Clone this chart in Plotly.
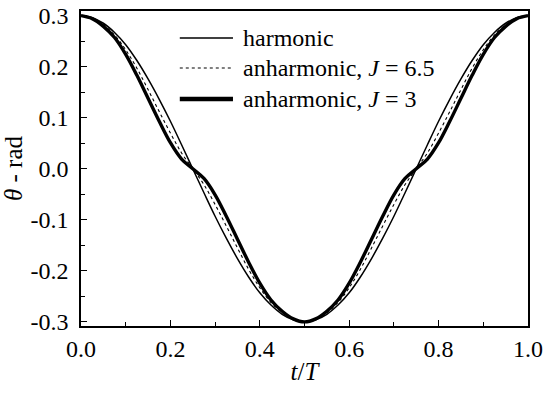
import plotly.graph_objects as go

# time axis t/T
t = [0.000, 0.025, 0.050, 0.075, 0.100, 0.125, 0.150, 0.175, 0.200, 0.225,
     0.250, 0.275, 0.300, 0.325, 0.350, 0.375, 0.400, 0.425, 0.450, 0.475,
     0.500, 0.525, 0.550, 0.575, 0.600, 0.625, 0.650, 0.675, 0.700, 0.725,
     0.750, 0.775, 0.800, 0.825, 0.850, 0.875, 0.900, 0.925, 0.950, 0.975,
     1.000]

harmonic = [0.300, 0.296, 0.285, 0.267, 0.243, 0.212, 0.176, 0.136, 0.093, 0.047,
            0.000, -0.047, -0.093, -0.136, -0.176, -0.212, -0.243, -0.267, -0.285, -0.296,
            -0.300, -0.296, -0.285, -0.267, -0.243, -0.212, -0.176, -0.136, -0.093, -0.047,
            0.000, 0.047, 0.093, 0.136, 0.176, 0.212, 0.243, 0.267, 0.285, 0.296,
            0.300]

anh_J65 = [0.300, 0.295, 0.282, 0.262, 0.233, 0.197, 0.155, 0.112, 0.070, 0.031,
           0.000, -0.031, -0.070, -0.112, -0.155, -0.197, -0.233, -0.262, -0.282, -0.295,
           -0.300, -0.295, -0.282, -0.262, -0.233, -0.197, -0.155, -0.112, -0.070, -0.031,
           0.000, 0.031, 0.070, 0.112, 0.155, 0.197, 0.233, 0.262, 0.282, 0.295,
           0.300]

anh_J3 = [0.300, 0.294, 0.279, 0.257, 0.224, 0.183, 0.138, 0.093, 0.051, 0.019,
          0.000, -0.019, -0.051, -0.093, -0.138, -0.183, -0.224, -0.257, -0.279, -0.294,
          -0.300, -0.294, -0.279, -0.257, -0.224, -0.183, -0.138, -0.093, -0.051, -0.019,
          0.000, 0.019, 0.051, 0.093, 0.138, 0.183, 0.224, 0.257, 0.279, 0.294,
          0.300]

x_tickvals = [0.0, 0.2, 0.4, 0.6, 0.8, 1.0]
x_ticktext = ["0.0", "0.2", "0.4", "0.6", "0.8", "1.0"]
y_tickvals = [-0.3, -0.2, -0.1, 0.0, 0.1, 0.2, 0.3]
y_ticktext = ["-0.3", "-0.2", "-0.1", "0.0", "0.1", "0.2", "0.3"]

legend_names = ["harmonic", "anharmonic, <i>J</i> = 6.5", "anharmonic, <i>J</i> = 3"]

FONT = "Liberation Serif"

fig = go.Figure()
fig.add_trace(go.Scatter(x=t, y=anh_J3, mode="lines", name=legend_names[2],
                         line=dict(color="black", width=3.4, shape="spline"),
                         showlegend=False))
fig.add_trace(go.Scatter(x=t, y=anh_J65, mode="lines", name=legend_names[1],
                         line=dict(color="black", width=1.1, dash="3px,3px", shape="spline"),
                         showlegend=False))
fig.add_trace(go.Scatter(x=t, y=harmonic, mode="lines", name=legend_names[0],
                         line=dict(color="black", width=1.5, shape="spline"),
                         showlegend=False))

# manual legend (paper coordinates)
leg_rows = [0.914, 0.819, 0.721]
leg_styles = [dict(color="black", width=1.5),
              dict(color="black", width=1.1, dash="3px,3px"),
              dict(color="black", width=4.5)]
for yrow, name, st in zip(leg_rows, legend_names, leg_styles):
    fig.add_shape(type="line", xref="paper", yref="paper",
                  x0=0.221, x1=0.340, y0=yrow, y1=yrow, line=st)
    fig.add_annotation(xref="paper", yref="paper", x=0.357, y=yrow,
                       text=name, showarrow=False, xanchor="left", yanchor="middle",
                       font=dict(family=FONT, size=24, color="black"))

axis_common = dict(showline=True, linecolor="black", linewidth=1.5, mirror=True,
                   showgrid=False, zeroline=False, ticks="inside", ticklen=6,
                   tickwidth=1.3, tickcolor="black",
                   tickfont=dict(family=FONT, size=24, color="black"))

fig.update_xaxes(range=[0, 1], tickvals=x_tickvals, ticktext=x_ticktext,
                 minor=dict(ticks="inside", ticklen=4, tickwidth=1.3, tickcolor="black", dtick=0.1,
                            tick0=0, showgrid=False),
                 title=dict(text="<i>t</i>/<i>T</i>", font=dict(family=FONT, size=25, color="black"),
                            standoff=2),
                 ticklabelstandoff=0,
                 **axis_common)
fig.update_yaxes(range=[-0.308, 0.309], tickvals=y_tickvals, ticktext=y_ticktext,
                 minor=dict(ticks="inside", ticklen=4, tickwidth=1.3, tickcolor="black", dtick=0.05,
                            tick0=0, showgrid=False),
                 title=dict(text="<i>θ</i> - rad", font=dict(family=FONT, size=25, color="black"),
                            standoff=6),
                 ticklabelstandoff=6,
                 **axis_common)

fig.update_layout(width=550, height=395,
                  margin=dict(l=81, r=22, t=11, b=69, autoexpand=False),
                  paper_bgcolor="white", plot_bgcolor="white",
                  font=dict(family=FONT, color="black"),
                  showlegend=False)

# remove the default 8px page margin so the figure sits at the window's corner
fig.write_html("out.html", config={"displayModeBar": False},
               post_script="document.body.style.margin='0px';")
